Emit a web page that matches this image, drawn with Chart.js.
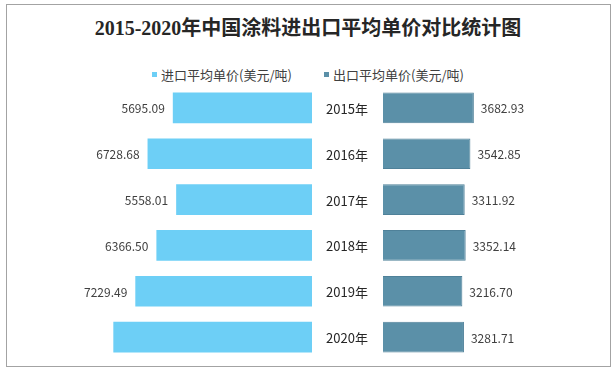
<!DOCTYPE html>
<html>
<head>
<meta charset="utf-8">
<script src="https://cdn.jsdelivr.net/npm/chart.js@4/dist/chart.umd.min.js"></script>
<style>
  html, body { margin: 0; padding: 0; background: #fff; }
  #page { position: relative; width: 616px; height: 371px; overflow: hidden; font-family: "Noto Sans CJK SC", sans-serif; }
  #frame { position: absolute; left: 6px; top: 4px; width: 603px; height: 361px; border: 1px solid #a3a3a3; }
  #title { position: absolute; left: 0; width: 616px; top: 14px; text-align: center; font: bold 20px "Liberation Serif", "Noto Sans CJK SC", serif; color: #262626; line-height: 28px; }
  .key { position: absolute; top: 66px; font-size: 13px; line-height: 17px; color: #404040; white-space: nowrap; }
  .key i { position: absolute; left: -9px; top: 6px; width: 5px; height: 5px; }
  canvas { position: absolute; }
</style>
</head>
<body>
<div id="page">
  <div id="frame"></div>
  <div id="title">2015-2020年中国涂料进出口平均单价对比统计图</div>
  <div class="key" id="keyImport" style="left:161px"><i></i></div>
  <div class="key" id="keyExport" style="left:333px"><i></i></div>
  <canvas id="importChart" width="306" height="275" style="left:6px;top:85px"></canvas>
  <canvas id="exportChart" width="292" height="275" style="left:318px;top:85px"></canvas>
</div>
<script>
const years = ["2015年", "2016年", "2017年", "2018年", "2019年", "2020年"];
const importPrices = [5695.09, 6728.68, 5558.01, 6366.5, 7229.49, 8129];
const exportPrices = [3682.93, 3542.85, 3311.92, 3352.14, 3216.7, 3281.71];
// the 2020 import label is not shown in the picture
const importLabelShown = [true, true, true, true, true, false];
const seriesNames = ["进口平均单价(美元/吨)", "出口平均单价(美元/吨)"];

const importColor = "#6dcff6";
const exportColor = "#5b90a8";
const labelColor = "#404040";
const labelFont = '12px "Noto Sans CJK SC", sans-serif';
const yearFont = '13px "Noto Sans CJK SC", sans-serif';

function setLegend(id, name, color) {
  const element = document.getElementById(id);
  element.querySelector("i").style.background = color;
  element.appendChild(document.createTextNode(name));
}

setLegend("keyImport", seriesNames[0], importColor);
setLegend("keyExport", seriesNames[1], exportColor);

function valueLabels(side, shown) {
  return {
    id: "valueLabels",
    afterDatasetsDraw(chart) {
      const { ctx } = chart;
      const meta = chart.getDatasetMeta(0);
      const values = chart.data.datasets[0].data;

      ctx.save();
      ctx.font = labelFont;
      ctx.fillStyle = labelColor;
      ctx.textBaseline = "middle";
      meta.data.forEach((bar, index) => {
        if (shown && !shown[index]) {
          return;
        }
        const text = values[index].toFixed(2);
        if (side === "left") {
          ctx.textAlign = "right";
          ctx.fillText(text, bar.x - 8, bar.y + 1);
        } else {
          ctx.textAlign = "left";
          ctx.fillText(text, bar.x + 7, bar.y + 1);
        }
      });

      // year names sit in the gap left of the export bars
      if (side === "right") {
        const yScale = chart.scales.y;
        ctx.font = yearFont;
        ctx.fillStyle = "#262626";
        ctx.textAlign = "center";
        chart.data.labels.forEach((year, index) => {
          ctx.fillText(year, chart.chartArea.left - 36, yScale.getPixelForValue(index) + 1);
        });
      }
      ctx.restore();
    },
  };
}

function baseOptions() {
  return {
    indexAxis: "y",
    responsive: false,
    animation: false,
    devicePixelRatio: 1,
    layout: { padding: 0 },
    plugins: {
      legend: { display: false },
      tooltip: { enabled: false },
    },
  };
}

const importOptions = baseOptions();
importOptions.scales = {
  x: { display: false, reverse: true, min: 0, max: 12520 },
  y: { display: false },
};

new Chart(document.getElementById("importChart"), {
  type: "bar",
  data: {
    labels: years,
    datasets: [
      {
        label: seriesNames[0],
        data: importPrices,
        backgroundColor: importColor,
        barPercentage: 0.67,
        categoryPercentage: 1,
      },
    ],
  },
  options: importOptions,
  plugins: [valueLabels("left", importLabelShown)],
});

const exportOptions = baseOptions();
exportOptions.layout = { padding: { left: 65 } };
exportOptions.scales = {
  x: { display: false, min: 0, max: 9201 },
  y: { display: false },
};

new Chart(document.getElementById("exportChart"), {
  type: "bar",
  data: {
    labels: years,
    datasets: [
      {
        label: seriesNames[1],
        data: exportPrices,
        backgroundColor: exportColor,
        borderColor: "#4f8199",
        borderWidth: 1,
        barPercentage: 0.67,
        categoryPercentage: 1,
      },
    ],
  },
  options: exportOptions,
  plugins: [valueLabels("right")],
});
</script>
</body>
</html>
